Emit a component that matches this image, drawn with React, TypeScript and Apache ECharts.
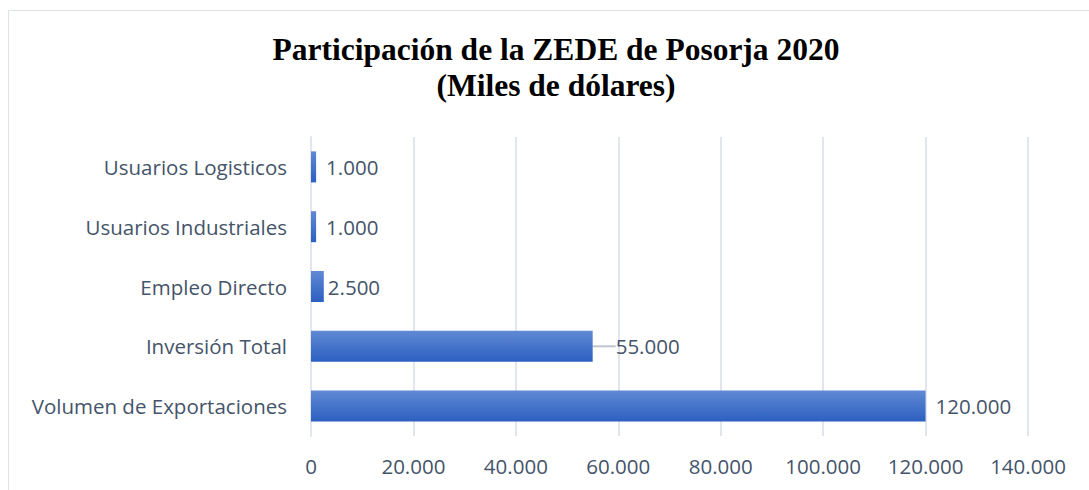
import React, { useEffect, useRef } from "react";
import * as echarts from "echarts";

const titleLines = ["Participación de la ZEDE de Posorja 2020", "(Miles de dólares)"];
const categories = [
  "Usuarios Logisticos",
  "Usuarios Industriales",
  "Empleo Directo",
  "Inversión Total",
  "Volumen de Exportaciones",
];
const values = [1000, 1000, 2500, 55000, 120000];
const xTicks = [0, 20000, 40000, 60000, 80000, 100000, 120000, 140000];

const fmt = (v: number) => String(Math.round(v)).replace(/\B(?=(\d{3})+(?!\d))/g, ".");

const TEXT = "#44546a";
const FONT = "'Open Sans', 'Noto Sans', sans-serif";
const FS = 20.5;

export default function App() {
  const ref = useRef<HTMLDivElement>(null);
  useEffect(() => {
    if (!ref.current) return;
    const chart = echarts.init(ref.current, undefined, { renderer: "svg" });
    const grad = new echarts.graphic.LinearGradient(0, 0, 0, 1, [
      { offset: 0, color: "#6189d5" },
      { offset: 1, color: "#2b5fc0" },
    ]);
    chart.setOption({
      animation: false,
      backgroundColor: "#ffffff",
      graphic: [
        {
          type: "rect",
          shape: { x: 8.5, y: 10.5, width: 1200, height: 600 },
          style: { fill: "none", stroke: "#dde1ea", lineWidth: 1 },
          silent: true,
          z: -1,
        },
      ],
      title: {
        text: titleLines.join("\n"),
        left: 551,
        textAlign: "center",
        top: 26,
        textStyle: {
          fontFamily: "'Liberation Serif', 'Times New Roman', serif",
          fontWeight: "bold",
          fontSize: 31.5,
          lineHeight: 36,
          color: "#000000",
        },
      },
      grid: { left: 311, right: 61, top: 137, bottom: 54, containLabel: false },
      xAxis: {
        type: "value",
        min: xTicks[0],
        max: xTicks[xTicks.length - 1],
        interval: xTicks[1] - xTicks[0],
        axisLine: { show: false },
        axisTick: { show: false },
        splitLine: { lineStyle: { color: "#e1e5ec", width: 2 } },
        axisLabel: {
          formatter: (v: number) => fmt(v),
          color: TEXT,
          fontFamily: FONT,
          fontSize: FS,
          margin: 19,
        },
      },
      yAxis: {
        type: "category",
        inverse: true,
        data: categories,
        axisLine: { show: true, lineStyle: { color: "#e1e5ec", width: 2 } },
        axisTick: { show: false },
        axisLabel: {
          color: TEXT,
          fontFamily: FONT,
          fontSize: FS,
          margin: 24,
        },
      },
      series: [
        {
          type: "bar",
          barWidth: 31,
          itemStyle: { color: grad },
          data: values.map((v, i) => {
            const item: any = { value: v };
            if (i === 2) item.label = { distance: 4 };
            if (i === 3) {
              item.labelLine = { show: true, lineStyle: { color: "#bfc5cf", width: 2 } };
            }
            return item;
          }),
          label: {
            show: true,
            position: "right",
            distance: 10,
            formatter: (p: any) => fmt(p.value),
            color: TEXT,
            fontFamily: FONT,
            fontSize: FS,
          },
          labelLayout: (p: any) => (p.dataIndex === 3 ? { dx: 13 } : {}),
        },
      ],
    });
    return () => chart.dispose();
  }, []);
  return (
    <div
      ref={ref}
      style={{ position: "fixed", left: 0, top: 0, width: 1089, height: 490 }}
    />
  );
}
